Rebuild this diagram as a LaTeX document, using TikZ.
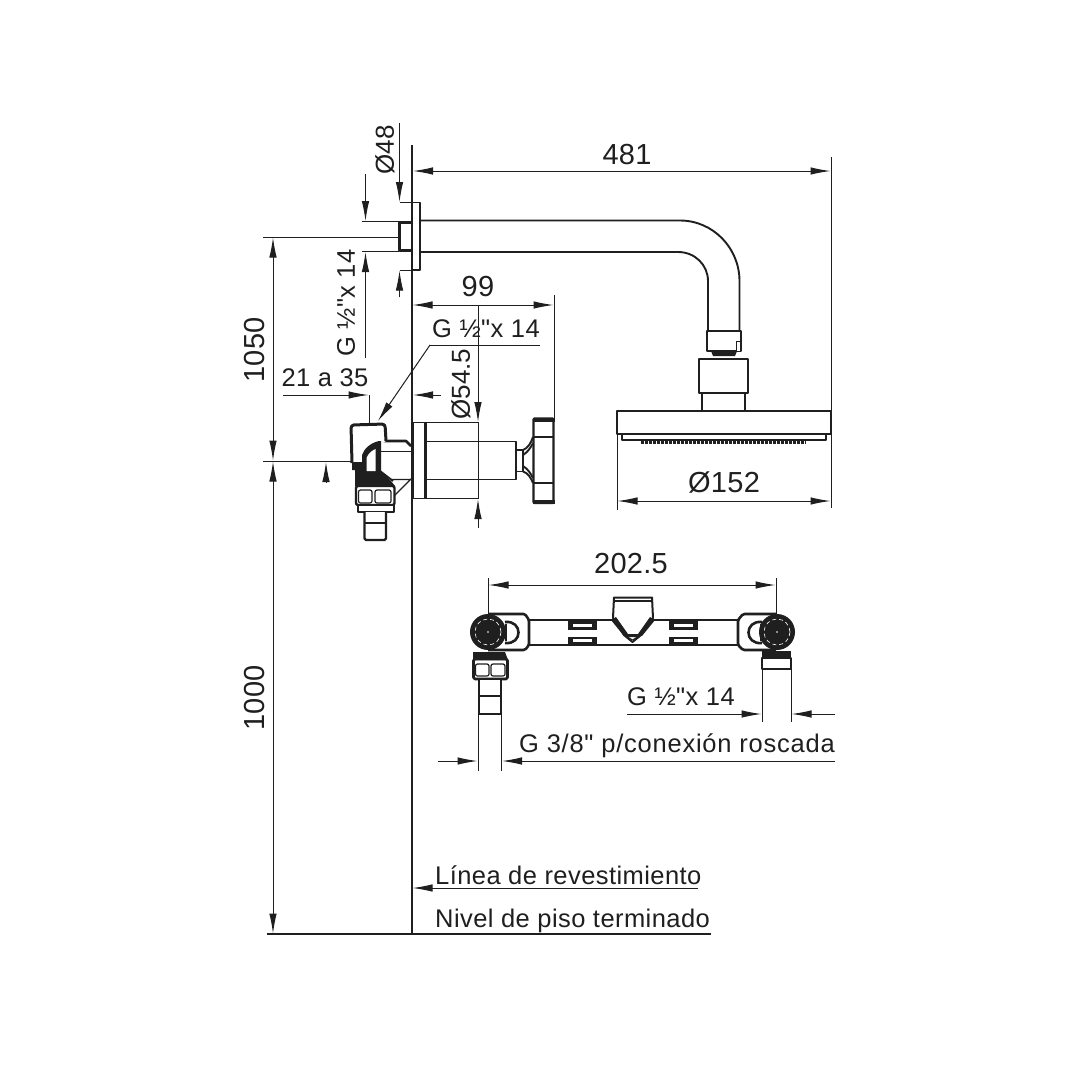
\documentclass[tikz,border=0pt]{standalone}
\usepackage{fontspec}
\setmainfont[Ligatures=TeXOff]{Liberation Sans}
\usetikzlibrary{arrows.meta}
\definecolor{ink}{gray}{0.12}
\tikzset{
    dim/.style =    {draw=ink,
                    line width=1pt},
    wall/.style =   {draw=ink,
                    line width=2.2pt},
    part/.style =   {draw=ink,
                    fill=white,
                    line width=1.9pt,
                    line join=round},
    heavy/.style =  {draw=ink,
                    line width=3pt,
                    line join=round},
    slot/.style =   {draw=white,
                    line width=2.4pt},
    big/.style =    {text=ink,
                    inner sep=0pt,
                    font=\fontsize{29}{29}\selectfont\addfontfeature{LetterSpace=1}},
    tall/.style =   {text=ink,
                    inner sep=0pt,
                    font=\fontsize{26}{26}\selectfont},
    small/.style =  {text=ink,
                    inner sep=0pt,
                    font=\fontsize{25.5}{25.5}\selectfont\addfontfeature{LetterSpace=1.7}},
    >={Latex[length=20pt,width=7.5pt]}
}
\begin{document}
\begin{tikzpicture}[x=1pt,y=-1pt]
    \useasboundingbox (0,0) rectangle (1080,1080);
    \fill[white] (0,0) rectangle (1080,1080);

    % shower arm
    \draw[part,fill=none] (420,220.5) -- (680,220.5) .. controls (713,220.5) and (739.5,248) .. (739.5,281) -- (739.5,331);
    \draw[part,fill=none] (420,252) -- (678,252) .. controls (695,252) and (708,265) .. (708,281) -- (708,331);
    % wall plate and nipple
    \draw[part,fill=none] (412,202.5) -- (420,202.5) -- (420,270) -- (412,270);
    \draw[heavy] (412,222.5) -- (399,222.5) -- (399,250.5) -- (412,250.5);

    % shower head
    \draw[part] (707,331) rectangle (741,351);
    \draw[part,line width=1pt] (736,341) rectangle (740,351);
    \fill[ink] (711,351) -- (737,351) -- (735,356) -- (713,356) -- cycle;
    \draw[part] (702,393) rectangle (745,411);
    \draw[part] (699,359) rectangle (748,393);
    \draw[part] (622,434) rectangle (826,440);
    \draw[part] (617,411) rectangle (831,434);
    \draw[draw=ink,line width=3pt,dash pattern=on 3pt off 1pt] (641,442) -- (806,442);

    % valve body
    \draw[part] (426,441.5) rectangle (516,479.5);
    \draw[part] (516,450) rectangle (523,471.5);
    \draw[part,fill=none] (523,450) .. controls (528,448) and (531,443) .. (533,437);
    \draw[part,fill=none] (523,471.5) .. controls (528,473) and (531,478) .. (533,483);
    \draw[part,fill=none] (523,455) .. controls (528,452) and (531,447) .. (533,443);
    \draw[part,fill=none] (523,466) .. controls (528,469) and (531,474) .. (533,478);
    \draw[part,line width=2.4pt,rounded corners=1pt] (533.5,418.5) rectangle (553.5,503);
    \draw[part,fill=none] (533.5,437) -- (553.5,437) (533.5,483) -- (553.5,483);
    \fill[ink] (533,417.5) rectangle (554.5,422);
    \fill[ink] (533,499.5) rectangle (554.5,504);
    \draw[part,line width=1.2pt] (413,422.5) rectangle (425,498.5);
    \draw[heavy,line width=2.6pt] (425.5,422.5) -- (425.5,498.5);

    % elbow on the left
    \draw[part,line width=1.2pt,fill=none] (390,479.5) -- (412,479.5) (394,496) -- (412,478);
    \draw[part,line width=2.6pt,fill=none] (380,441) -- (406,441) -- (411,446);
    \draw[part,fill=none,line width=1.5pt] (380,451.5) -- (412,451.5);
    \draw[part,fill=none] (380,471) -- (393,481);
    \draw[heavy,fill=white,rounded corners=3pt] (352,463) -- (351,425) -- (385,424) -- (386,441);
    \fill[ink] (352,462) -- (362,462) -- (362,455) .. controls (364,449) and (370,443) .. (379,441) -- (381,441) -- (381,471) -- (391,481) -- (395,486) -- (355,486) -- (355,470) -- (352,470) -- cycle;
    \fill[white] (366.5,471) -- (366.5,458) .. controls (368,454) and (371,451) .. (375.5,449) -- (375.5,471) -- cycle;
    \draw[heavy,fill=white,rounded corners=2pt,line width=2.4pt] (356,486) rectangle (394.5,505);
    \draw[part,line width=1.2pt,rounded corners=2pt] (358.5,490) rectangle (372,503);
    \draw[part,line width=1.2pt,rounded corners=2pt] (375,490) rectangle (391,503);
    \draw[part,line width=1.4pt] (358,505) rectangle (394,512);
    \draw[part,line width=2.4pt,rounded corners=1.5pt] (364.5,512) -- (364.5,540) -- (386,540) -- (386,512);
    \draw[part,line width=2.4pt] (364.5,523) -- (386,523);

    % wall line and floor
    \draw[wall] (412,145) -- (412,934);
    \draw[dim,line width=1.3pt] (267,934) -- (711,934);
    \draw[dim,->] (698,888) -- (412.5,888);
    \node[small,anchor=base west] (lineaText) at (435,884) {Línea de revestimiento};
    \node[small,anchor=base west] (nivelText) at (435,927) {Nivel de piso terminado};

    % overall dimensions
    \draw[dim] (831,157) -- (831,508);
    \draw[dim,<->] (413,171) -- (830.5,171);
    \node[big] (armText) at (627,155) {481};
    \draw[dim] (617,434) -- (617,510);
    \draw[dim,<->] (617.5,501) -- (830.5,501);
    \node[big] (headText) at (724,482) {Ø152};

    % plate dimensions
    \draw[dim,->] (399.5,123) -- (399.5,202);
    \draw[dim] (399.5,202.5) -- (412,202.5);
    \draw[dim,->] (399.5,297) -- (399.5,270.5);
    \draw[dim] (399.5,270) -- (412,270);
    \node[tall,rotate=90] (plateText) at (385,150) {Ø48};
    \draw[dim,->] (365.5,174) -- (365.5,221);
    \draw[dim] (362,221.5) -- (399,221.5);
    \draw[dim,->] (365.5,358) -- (365.5,252);
    \draw[dim] (362,251.5) -- (399,251.5);
    \node[small,rotate=90] (nippleText) at (346,303) {G ½"x 14};

    % height dimensions
    \draw[dim] (263,237) -- (398,237);
    \draw[dim] (263,461) -- (351,461);
    \draw[dim,<->] (273,237.5) -- (273,460.5);
    \draw[dim,<->] (273,461.5) -- (273,933.5);
    \node[big,rotate=90] (upperText) at (255,350) {1050};
    \node[big,rotate=90] (lowerText) at (255,698) {1000};
    \draw[dim,->] (326,482) -- (326,462);

    % valve dimensions
    \draw[dim] (554,295) -- (554,418);
    \draw[dim,<->] (412.5,305) -- (553.5,305);
    \node[big] (depthText) at (478,287) {99};
    \node[small] (inletText) at (486,329) {G ½"x 14};
    \draw[dim] (540,345) -- (430,345);
    \draw[dim,->] (430,345) -- (378,421);
    \node[small] (rangeText) at (325,378) {21 a 35};
    \draw[dim,->] (283,395) -- (368.5,395);
    \draw[dim,->] (441,395) -- (413,395);
    \draw[dim] (369,395) -- (369,423);
    \draw[dim,->] (478,305) -- (478,422);
    \draw[dim,->] (478,528) -- (478,499);
    \draw[dim] (478,422) -- (478,499);
    \draw[dim] (425,422.5) -- (478,422.5);
    \draw[dim] (425,498.5) -- (478,498.5);
    \node[tall,rotate=90] (flangeText) at (461,384) {Ø54.5};

    % lower assembly
    \draw[part,fill=none] (528,620) -- (740,620) (528,645) -- (740,645);
    \draw[heavy,fill=white,line width=2.6pt,rounded corners=1.5pt] (488,614) -- (525,614) -- (529,620) -- (529,645) -- (525,650) -- (488,650);
    \draw[heavy,fill=white,line width=2.6pt,rounded corners=1.5pt] (776,614) -- (743,614) -- (738,620) -- (738,645) -- (743,650) -- (776,650);
    \draw[part,line width=2.6pt,fill=none] (505,622) .. controls (523,620) and (523,645) .. (505,643);
    \draw[part,line width=2.6pt,fill=none] (762,622) .. controls (744,620) and (744,645) .. (762,643);
    \draw[part,line width=2.2pt,fill=none] (506,624) -- (506,641) (761,624) -- (761,641);
    \fill[ink] (488,632) circle (18);
    \fill[ink] (777,632) circle (18);
    \draw[white,line width=0.6pt,dash pattern=on 4pt off 3pt] (488,632) circle (13);
    \draw[white,line width=0.6pt,dash pattern=on 4pt off 3pt] (777,632) circle (13);
    \fill[white] (488,632) circle (0.8);
    \fill[white] (777,632) circle (0.8);

    \draw[part,line width=2pt] (614,597.5) -- (652,597.5) -- (653,618) -- (641,635) -- (632.5,642) -- (624,635) -- (613,618) -- cycle;
    \draw[part,fill=none,line width=1.3pt] (614,601) -- (652,601);
    \fill[ink] (611,620) -- (616,617) -- (628,634) -- (624,636) -- cycle;
    \fill[ink] (655,620) -- (650,617) -- (638,634) -- (642,636) -- cycle;
    \fill[ink] (624,634) -- (641,634) -- (639,637) -- (626,637) -- cycle;
    \draw[part,fill=none,line width=1pt] (626,636) -- (632.5,640) -- (639,636);

    \foreach \slotx in {568,669} {
        \fill[ink] (\slotx,620) rectangle ++(28.5,9.5);
        \fill[ink] (\slotx,637) rectangle ++(28.5,8);
        \draw[slot] (\slotx+5,625.5) -- ++(19,0);
        \draw[slot] (\slotx+5,640.5) -- ++(19,0);
    }

    \draw[heavy,fill=white,line width=2.6pt,rounded corners=1.5pt] (473.5,659) rectangle (507.5,679);
    \draw[part,line width=1.2pt,rounded corners=2pt] (475.5,664) rectangle (489,676);
    \draw[part,line width=1.2pt,rounded corners=2pt] (491,664) rectangle (505,676);
    \fill[ink] (473,652) -- (505,652) -- (508,660) -- (473,660) -- cycle;
    \draw[part,line width=2.4pt] (479,679) rectangle (501,696);
    \draw[part,line width=2.4pt] (479,696) rectangle (501,714);

    \draw[heavy,fill=white,line width=2.6pt] (762,658) rectangle (791,669);
    \fill[ink] (762,651) -- (791,651) -- (791,658) -- (762,658) -- cycle;

    % lower assembly dimensions
    \draw[dim] (488,578) -- (488,615);
    \draw[dim] (776,578) -- (776,615);
    \draw[dim,<->] (488.5,585) -- (775.5,585);
    \node[big] (spanText) at (631,564) {202.5};
    \draw[dim] (762,669) -- (762,722);
    \draw[dim] (791,669) -- (791,722);
    \draw[dim,->] (627,714) -- (761.5,714);
    \draw[dim,->] (835,714) -- (791.5,714);
    \node[small] (outletText) at (681,697) {G ½"x 14};
    \draw[dim] (478,714) -- (478,771);
    \draw[dim] (501.5,714) -- (501.5,771);
    \draw[dim,->] (438,761) -- (477.5,761);
    \draw[dim,->] (835,761) -- (502,761);
    \node[small,anchor=base east,font=\fontsize{25.5}{25.5}\selectfont\addfontfeature{LetterSpace=3}] (threadText) at (835,752) {G 3/8" p/conexión roscada};
\end{tikzpicture}
\end{document}
